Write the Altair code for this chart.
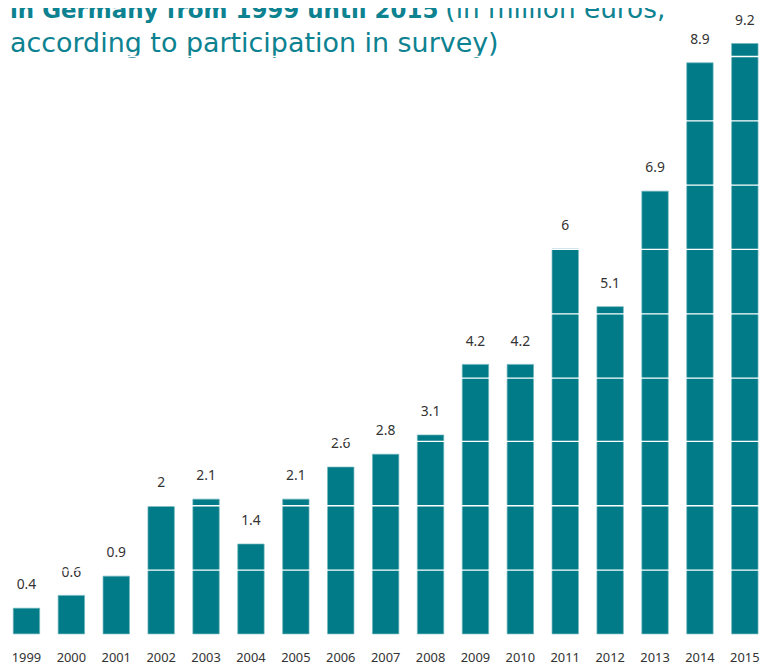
import altair as alt
import pandas as pd

years = ["1999", "2000", "2001", "2002", "2003", "2004", "2005", "2006", "2007",
         "2008", "2009", "2010", "2011", "2012", "2013", "2014", "2015"]
values = [0.4, 0.6, 0.9, 2, 2.1, 1.4, 2.1, 2.6, 2.8, 3.1, 4.2, 4.2, 6, 5.1, 6.9, 8.9, 9.2]
labels = ["0.4", "0.6", "0.9", "2", "2.1", "1.4", "2.1", "2.6", "2.8", "3.1", "4.2", "4.2",
          "6", "5.1", "6.9", "8.9", "9.2"]

title_bold = "in Germany from 1999 until 2015"
title_regular = "(in million euros,"
title_line2 = "according to participation in survey)"

TEAL = "#007b87"
TITLE_C = "#0d8290"
FONT = "Noto Sans"
TFONT = "DejaVu Sans"

df = pd.DataFrame({"year": years, "value": values, "label": labels})

x = alt.X("year:N", sort=years,
          scale=alt.Scale(range=[0, 763.3], paddingInner=0.412, paddingOuter=0.117),
          axis=alt.Axis(title=None, labelAngle=0, ticks=False, domain=False,
                        labelPadding=18, labelFontSize=13, labelColor="#333333",
                        labelFont=FONT, grid=False))
y = alt.Y("value:Q", scale=alt.Scale(domain=[0, 9.7], nice=False, zero=True),
          axis=alt.Axis(title=None, labels=False, ticks=False, domain=False,
                        values=[1, 2, 3, 4, 5, 6, 7, 8, 9], grid=True,
                        gridColor="white", gridWidth=1.3, zindex=1))

base = alt.Chart(df)
bars = base.mark_bar(color=TEAL, stroke="#6fb5bd", strokeWidth=0.7).encode(x=x, y=y)
text = base.mark_text(dy=-19, baseline="alphabetic", fontSize=14, color="#333333",
                      font=FONT).encode(x=x, y="value:Q", text="label:N")

t1 = alt.Chart(pd.DataFrame({"t": [title_bold]})).mark_text(
    align="left", baseline="alphabetic", fontSize=23.2, fontWeight="bold",
    color=TITLE_C, font=TFONT).encode(text="t:N", x=alt.value(2), y=alt.value(7))
t2 = alt.Chart(pd.DataFrame({"t": [title_regular]})).mark_text(
    align="left", baseline="alphabetic", fontSize=26.6, color=TITLE_C,
    font=TFONT).encode(text="t:N", x=alt.value(442), y=alt.value(7))
t3 = alt.Chart(pd.DataFrame({"t": [title_line2]})).mark_text(
    align="left", baseline="alphabetic", fontSize=27.2, color=TITLE_C,
    font=TFONT).encode(text="t:N", x=alt.value(2), y=alt.value(41))

chart = alt.layer(bars, text, t1, t2, t3).properties(
    width=762, height=629,
    autosize=alt.AutoSizeParams(type="none"),
    padding={"left": 0, "top": 0, "right": 0, "bottom": 34},
).configure_view(stroke=None)

chart.save("out.html", embed_options={"renderer": "svg", "actions": False})
